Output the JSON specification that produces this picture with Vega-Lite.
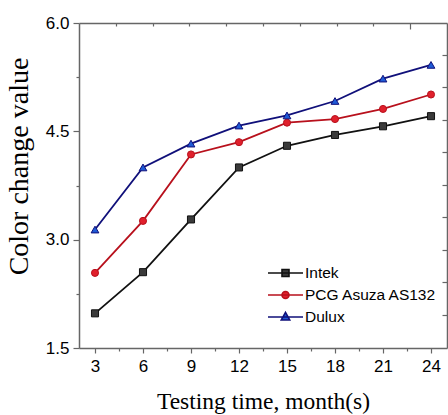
{
  "$schema": "https://vega.github.io/schema/vega-lite/v6.json",
  "autosize": {"type": "none"},
  "width": 368,
  "height": 325,
  "padding": {"left": 79, "top": 23, "right": 1, "bottom": 67},
  "background": "white",
  "config": {
    "view": {"stroke": null},
    "axis": {
      "grid": false,
      "domainColor": "#666666",
      "domainWidth": 1.5,
      "tickColor": "#666666",
      "tickWidth": 1.2,
      "labelFont": "Liberation Sans",
      "labelFontSize": 17,
      "labelColor": "#000000",
      "titleFont": "Liberation Serif",
      "titleFontWeight": "normal",
      "titleColor": "#000000"
    }
  },
  "data": {
    "values": [
      {"series": "Intek", "month": 3, "value": 1.98},
      {"series": "Intek", "month": 6, "value": 2.55},
      {"series": "Intek", "month": 9, "value": 3.28},
      {"series": "Intek", "month": 12, "value": 4.0},
      {"series": "Intek", "month": 15, "value": 4.3},
      {"series": "Intek", "month": 18, "value": 4.45},
      {"series": "Intek", "month": 21, "value": 4.57},
      {"series": "Intek", "month": 24, "value": 4.71},
      {"series": "PCG Asuza AS132", "month": 3, "value": 2.54},
      {"series": "PCG Asuza AS132", "month": 6, "value": 3.26},
      {"series": "PCG Asuza AS132", "month": 9, "value": 4.18},
      {"series": "PCG Asuza AS132", "month": 12, "value": 4.35},
      {"series": "PCG Asuza AS132", "month": 15, "value": 4.62},
      {"series": "PCG Asuza AS132", "month": 18, "value": 4.67},
      {"series": "PCG Asuza AS132", "month": 21, "value": 4.81},
      {"series": "PCG Asuza AS132", "month": 24, "value": 5.01},
      {"series": "Dulux", "month": 3, "value": 3.14},
      {"series": "Dulux", "month": 6, "value": 4.0},
      {"series": "Dulux", "month": 9, "value": 4.33},
      {"series": "Dulux", "month": 12, "value": 4.58},
      {"series": "Dulux", "month": 15, "value": 4.72},
      {"series": "Dulux", "month": 18, "value": 4.92},
      {"series": "Dulux", "month": 21, "value": 5.23},
      {"series": "Dulux", "month": 24, "value": 5.42}
    ]
  },
  "layer": [
    {
      "mark": {"type": "line", "strokeWidth": 1.8},
      "encoding": {
        "x": {
          "field": "month", "type": "quantitative",
          "scale": {"domain": [2, 25], "nice": false, "zero": false},
          "axis": {
            "orient": "bottom",
            "title": "Testing time, month(s)",
            "titleFontSize": 23.5,
            "titleBaseline": "alphabetic",
            "titleY": 60,
            "values": [3, 4.5, 6, 7.5, 9, 10.5, 12, 13.5, 15, 16.5, 18, 19.5, 21, 22.5, 24],
            "labelExpr": "datum.value % 3 == 0 ? datum.label : ''",
            "tickSize": {"condition": {"test": "datum.value % 3 == 0", "value": 5}, "value": 3},
            "labelPadding": 5,
            "labelFlush": false
          }
        },
        "y": {
          "field": "value", "type": "quantitative",
          "scale": {"domain": [1.5, 6.0], "nice": false, "zero": false},
          "axis": {
            "orient": "left",
            "title": "Color change value",
            "titleFontSize": 28,
            "titleAngle": -90,
            "titleX": -60,
            "titleY": 143,
            "titleAlign": "center",
            "titleBaseline": "middle",
            "values": [1.5, 2.25, 3, 3.75, 4.5, 5.25, 6],
            "format": ".1f",
            "labelExpr": "datum.value % 1.5 == 0 ? datum.label : ''",
            "tickSize": {"condition": {"test": "datum.value % 1.5 == 0", "value": 6}, "value": 3},
            "labelPadding": 4
          }
        },
        "color": {
          "field": "series", "type": "nominal",
          "scale": {"domain": ["Intek", "PCG Asuza AS132", "Dulux"], "range": ["#111111", "#b8101c", "#10107a"]},
          "legend": {
            "orient": "none",
            "legendX": 188,
            "legendY": 242,
            "title": null,
            "padding": 0,
            "symbolSize": 1225,
            "symbolType": "stroke",
            "clipHeight": 16,
            "labelFont": "Liberation Sans",
            "labelFontSize": 15.5,
            "labelColor": "#000000",
            "labelOffset": 1,
            "rowPadding": 5,
            "symbolStrokeWidth": 1.6,
            "encode": {
              "symbols": {
                "update": {
                  "shape": {"signal": "datum.value == 'Intek' ? 'M-1,0H1M-0.2,-0.2H0.2V0.2H-0.2Z' : datum.value == 'Dulux' ? 'M-1,0H1M0,-0.26L0.24,0.17L-0.24,0.17Z' : 'M-1,0H1M-0.2,0A0.2,0.2 0 1,0 0.2,0A0.2,0.2 0 1,0 -0.2,0Z'"},
                  "stroke": {"signal": "datum.value == 'Intek' ? '#111111' : datum.value == 'Dulux' ? '#10107a' : '#b8101c'"},
                  "fill": {"signal": "datum.value == 'Intek' ? '#3a3a3a' : datum.value == 'Dulux' ? '#1f5ad6' : '#e0202c'"},
                  "opacity": {"value": 1},
                  "fillOpacity": {"value": 1},
                  "strokeWidth": {"value": 1.6}
                }
              }
            }
          }
        }
      }
    },
    {
      "transform": [{"filter": "datum.series == 'Intek'"}],
      "mark": {"type": "point", "shape": "square", "filled": true, "size": 50, "fill": "#3a3a3a", "stroke": "#111111", "strokeWidth": 1, "opacity": 1},
      "encoding": {
        "x": {
          "field": "month", "type": "quantitative",
          "axis": {
            "orient": "top",
            "title": null,
            "labels": false,
            "values": [4.3, 6.6, 8.9, 11.2, 13.5, 15.8, 18.1, 20.4, 22.7],
            "tickSize": {"condition": {"test": "datum.index % 2 == 1", "value": -6}, "value": -3}
          }
        },
        "y": {
          "field": "value", "type": "quantitative",
          "axis": {
            "orient": "right",
            "title": null,
            "labels": false,
            "values": [1.96, 2.41, 2.86, 3.31, 3.76, 4.21, 4.66, 5.11, 5.56],
            "tickSize": -5
          }
        }
      }
    },
    {
      "transform": [{"filter": "datum.series == 'PCG Asuza AS132'"}],
      "mark": {"type": "point", "shape": "circle", "filled": true, "size": 50, "fill": "#e0202c", "stroke": "#b8101c", "strokeWidth": 1, "opacity": 1},
      "encoding": {
        "x": {"field": "month", "type": "quantitative", "axis": null},
        "y": {"field": "value", "type": "quantitative", "axis": null}
      }
    },
    {
      "transform": [{"filter": "datum.series == 'Dulux'"}],
      "mark": {"type": "point", "shape": "triangle-up", "filled": true, "size": 60, "fill": "#1f5ad6", "stroke": "#10107a", "strokeWidth": 1, "opacity": 1},
      "encoding": {
        "x": {"field": "month", "type": "quantitative", "axis": null},
        "y": {"field": "value", "type": "quantitative", "axis": null}
      }
    }
  ],
  "resolve": {"axis": {"x": "independent", "y": "independent"}}
}
